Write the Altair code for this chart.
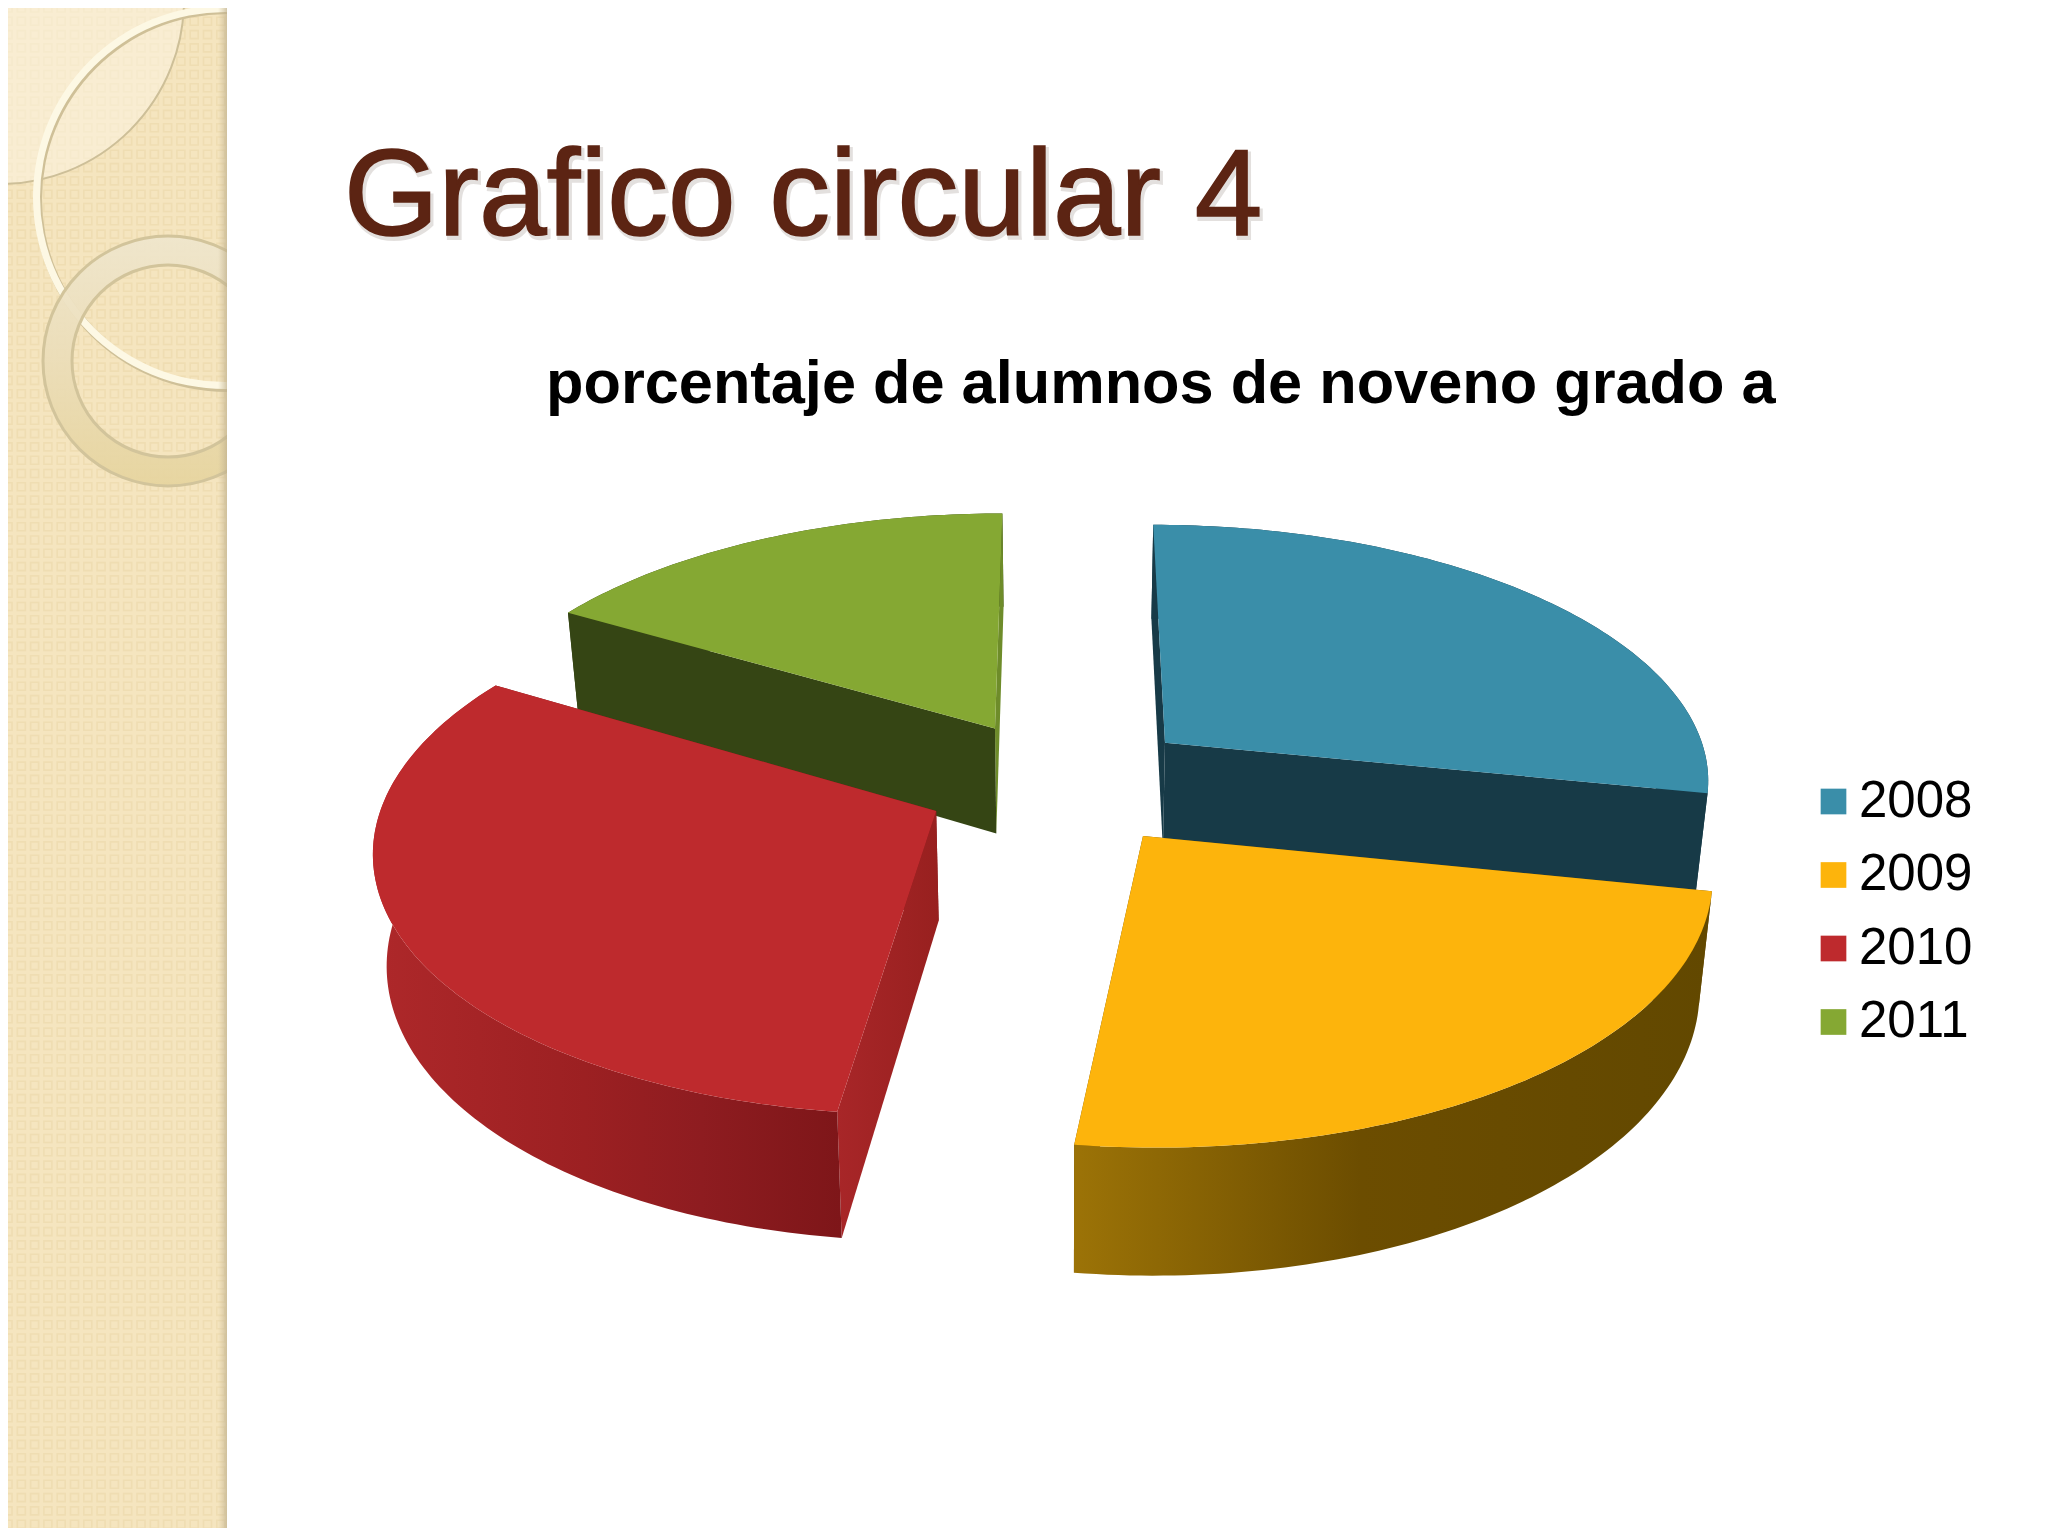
import math
import altair as alt
import numpy as np

# ---- chart values ----
years = ["2008", "2009", "2010", "2011"]
shares = [28.2, 23.8, 31.5, 16.5]
top_colors = ["#3A8EA9", "#FDB40C", "#BE2A2D", "#85A833"]
wall_colors = ["#173A47", "#6A4B00", "#A02426", "#354514"]
title_text = "Grafico circular 4"
subtitle_text = "porcentaje de alumnos de noveno grado a"

# ---- 3-D pie view (perspective tilt) ----
CX, CY = 1061.0, 782.5
AX, BY = 548.0, 256.0
TILT = 0.13
DEPTH = 108.0
EXPLODE = 0.25
FLOOR = 0.98


def project(X, Y, low=False):
    w = 1 - TILT * Y
    px = CX + AX * X / w
    py = CY + BY * Y / w
    if low:
        px = CX + (px - CX) * FLOOR
        py = py + DEPTH / w
    return [round(px, 2), round(py, 2)]


def feature(year, ring):
    return {"type": "Feature", "properties": {"year": year},
            "geometry": {"type": "Polygon", "coordinates": [ring + [ring[0]]]}}


def slice_parts(start, end, year):
    mid = math.radians((start + end) / 2)
    ox, oy = EXPLODE * math.sin(mid), -EXPLODE * math.cos(mid)
    n = max(int(end - start), 2)
    angs = [math.radians(a) for a in np.linspace(start, end, n + 1)]
    rim = [(ox + math.sin(a), oy - math.cos(a)) for a in angs]
    top = [project(ox, oy)] + [project(*p) for p in rim]
    outer = [project(*p) for p in rim] + [project(*p, low=True) for p in rim[::-1]]
    wall_a = [project(ox, oy), project(*rim[0]), project(*rim[0], low=True), project(ox, oy, low=True)]
    wall_b = [project(ox, oy), project(*rim[-1]), project(*rim[-1], low=True), project(ox, oy, low=True)]
    return dict(top=feature(year, top), outer=feature(year, outer),
                a=feature(year, wall_a), b=feature(year, wall_b))


total = sum(shares)
parts = {}
acc = 0.0
for yr, s in zip(years, shares):
    a0 = acc / total * 360
    acc += s
    parts[yr] = slice_parts(a0, acc / total * 360, yr)

proj = alt.Projection(type="identity", scale=1, translate=[-8, -8])
color_scale = alt.Scale(domain=years, range=top_colors)
legend = alt.Legend(orient="none", legendX=1800, legendY=768, title=None, symbolType="square",
                    symbolSize=660, symbolStrokeWidth=0, labelFontSize=51, labelFont="Liberation Sans",
                    labelColor="#000000", labelOffset=0, rowPadding=21.5, padding=0, labelLimit=300)


def shape(feat, fill):
    return alt.Chart(alt.Data(values=[feat])).mark_geoshape(fill=fill, stroke=None).project(**proj.to_dict())


def top_face(yr):
    return (alt.Chart(alt.Data(values=[parts[yr]["top"]]))
            .mark_geoshape(strokeWidth=0)
            .encode(color=alt.Color("properties.year:N", scale=color_scale, legend=legend))
            .project(**proj.to_dict()))


def grad(stops, horizontal=True):
    return alt.LinearGradient(
        gradient="linear",
        stops=[alt.GradientStop(offset=o, color=c) for o, c in stops],
        x1=0, y1=0, x2=1 if horizontal else 0, y2=0 if horizontal else 1)


blank = alt.Data(values=[{}])


def disc(cx, cy, r2, r1, fill, stroke=None, sw=0, opacity=1.0, t0=0.0, t1=2 * math.pi):
    kw = dict(radius=r2, radius2=r1, theta=t0, theta2=t1, fill=fill, fillOpacity=opacity)
    if stroke:
        kw.update(stroke=stroke, strokeWidth=sw)
    return alt.Chart(blank).mark_arc(**kw).encode(x=alt.value(cx - 8), y=alt.value(cy - 8))


def box(x0, x1, y0, y1, fill):
    return alt.Chart(blank).mark_rect(fill=fill).encode(
        x=alt.value(x0 - 8), x2=alt.value(x1 - 8), y=alt.value(y0 - 8), y2=alt.value(y1 - 8))


def label(txt, x, y, size, color, bold=False, opacity=1.0, stroke=None, sw=0):
    kw = dict(text=txt, align="left", baseline="alphabetic", font="Liberation Sans", fontSize=size,
              fontWeight="bold" if bold else "normal", fill=color, opacity=opacity)
    if stroke:
        kw.update(stroke=stroke, strokeWidth=sw)
    return alt.Chart(blank).mark_text(**kw).encode(x=alt.value(x - 8), y=alt.value(y - 8))


# ---- slide decoration ----
gx, gy = np.meshgrid(np.arange(0, 224, 13.3), np.arange(0, 1530, 13.3))
grid = [{"gx": round(float(a), 1), "gy": round(float(b), 1)} for a, b in zip(gx.ravel(), gy.ravel())]
weave = alt.Chart(alt.Data(values=grid)).mark_point(
    shape="square", filled=False, size=64, stroke="#EBD8A8", strokeWidth=1.6, opacity=0.55
).encode(x=alt.X("gx:Q", scale=None, axis=None), y=alt.Y("gy:Q", scale=None, axis=None))

band = box(0, 227, 0, 1536, "#F5E5BF")
edge = box(218, 227, 0, 1536, grad([(0, "rgba(200,185,150,0)"), (1, "rgba(190,175,140,0.7)")]))
cover = box(227, 2048, 0, 1536, "#FFFFFF")
leaf = disc(0, 0, 184, 0, "#FBF4E2", stroke="#CDBF98", sw=2, opacity=0.55, t0=math.pi / 2, t1=math.pi)
thin_shadow = disc(227, 199, 193, 185, "#CFC098")
thin = disc(225, 197, 192, 185, "#FDF8E4")
thick = disc(168, 361, 125, 96, grad([(0, "#EFE6CD"), (0.5, "#EBDDB8"), (1, "#E6D49E")], horizontal=False),
             stroke="#D2C49B", sw=3, opacity=0.92)

# ---- pie faces, painted from back to front ----
layers = [band, weave, leaf, thin_shadow, thin, thick, cover, edge]

y08, y09, y10, y11 = years
layers += [
    shape(parts[y11]["outer"], wall_colors[3]),
    shape(parts[y11]["b"], "#6E8C2A"),
    shape(parts[y11]["a"], wall_colors[3]),
    top_face(y11),
    shape(parts[y08]["a"], wall_colors[0]),
    shape(parts[y08]["outer"], wall_colors[0]),
    shape(parts[y08]["b"], wall_colors[0]),
    top_face(y08),
    shape(parts[y10]["b"], "#7F1719"),
    shape(parts[y10]["a"], grad([(0, "#A82628"), (1, "#98201F")])),
    shape(parts[y10]["outer"], grad([(0, "#AE282A"), (0.45, "#9C2022"), (0.7, "#8E1C20"), (1, "#7E1619")])),
    top_face(y10),
    shape(parts[y09]["a"], "#6A4B00"),
    shape(parts[y09]["b"], "#6A4B00"),
    shape(parts[y09]["outer"], grad([(0, "#9C7307"), (0.45, "#6C4D00"), (1, "#624800")])),
    top_face(y09),
]

# ---- texts ----
layers += [
    label(title_text, 346, 238, 121.5, "#7A6A60", opacity=0.2, stroke="#7A6A60", sw=4),
    label(title_text, 344, 235, 121.5, "#5C2413", stroke="#5C2413", sw=1.6),
    label(subtitle_text, 546, 403, 61.3, "#000000", bold=True),
]

chart = alt.layer(*layers).properties(
    width=2032, height=1520, padding=0, autosize="none", background="#FFFFFF"
).configure_view(stroke=None)

chart.save("out.html", embed_options={"renderer": "svg", "actions": False})
